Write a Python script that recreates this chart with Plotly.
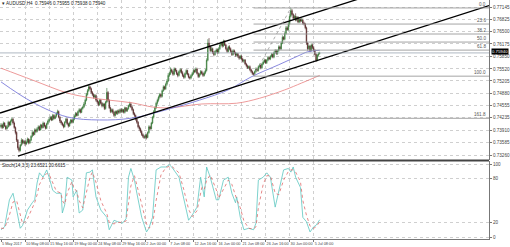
import plotly.graph_objects as go

# ---------------- data (prices in units of 0.0001 above 0.7000) ----------------
BASE = 0.7
UNIT = 0.0001

opens = [
400,405,398,410,402,395,400,412,405,415,
420,410,398,385,365,345,338,352,365,358,
362,355,360,368,358,365,375,385,380,392,
388,395,400,392,405,398,410,402,396,408,
415,420,425,418,430,422,428,435,440,425,
415,410,405,400,412,420,408,402,410,418,
412,420,428,435,430,440,445,438,448,452,
460,470,485,495,505,500,490,485,478,482,
470,465,458,470,462,455,460,448,465,490,
470,450,440,445,438,430,440,435,442,438,
445,440,445,438,450,442,448,455,460,452,
445,435,430,420,412,400,395,388,380,375,
372,378,372,385,400,395,410,425,440,450,
462,470,478,485,480,495,505,500,512,520,
535,540,550,545,538,552,548,540,535,545,
550,542,535,530,540,548,538,530,528,535,
540,548,545,552,540,532,538,545,540,535,
542,548,575,620,610,600,605,595,590,598,
602,595,605,615,620,612,625,615,605,598,
610,605,598,590,600,595,588,592,585,580,
585,578,572,575,565,560,555,558,550,545,
540,538,545,552,548,558,562,555,565,570,
575,568,575,582,578,585,590,583,595,600,
592,600,610,605,620,635,630,645,660,655,
670,690,705,695,685,690,680,688,675,682,
678,680,672,670,660,620,605,612,600,615,
608,600,590,575,588,592]

highs = [
410,408,414,412,404,405,416,414,419,425,
423,414,401,388,368,348,355,370,368,366,
365,364,372,370,368,378,390,388,396,395,
399,404,403,408,407,414,412,405,411,419,
424,429,428,434,433,432,438,445,443,428,
418,413,408,415,424,423,411,414,421,420,
424,432,439,438,443,449,448,451,456,465,
474,489,499,510,508,503,494,488,486,485,
474,468,473,473,465,463,462,468,502,494,
472,453,448,448,441,443,443,445,446,448,
449,448,447,453,452,451,458,466,464,455,
448,438,432,423,415,404,398,391,383,378,
381,382,388,404,403,413,428,444,454,466,
474,482,489,488,498,509,508,516,525,541,
545,556,553,548,556,555,550,543,548,554,
553,546,538,543,551,550,541,533,538,544,
552,551,556,555,543,541,549,548,543,546,
552,580,630,633,614,610,608,599,601,606,
605,609,619,624,623,629,628,618,608,613,
614,608,601,604,603,597,595,594,588,589,
588,581,578,578,568,563,561,561,553,548,
543,548,556,555,561,566,564,568,574,579,
578,578,586,585,588,594,593,598,604,603,
603,614,613,624,640,638,649,665,664,675,
695,712,709,698,694,698,691,690,686,685,
686,684,676,673,663,623,616,614,619,618,
612,604,593,591,596,597]

lows = [
396,394,396,400,391,393,398,401,403,412,
406,395,380,360,340,333,335,349,354,355,
350,352,357,354,355,362,372,376,378,384,
385,391,389,390,395,396,399,393,394,405,
412,417,415,416,419,420,425,432,422,410,
406,402,396,398,410,405,398,400,407,409,
409,417,425,427,428,437,435,436,445,449,
457,467,482,492,497,487,481,474,475,466,
461,454,455,459,451,452,444,445,462,466,
447,436,437,434,426,427,432,431,434,435,
436,437,435,435,439,439,445,452,449,441,
431,426,416,408,396,390,384,376,371,368,
369,367,370,382,392,393,407,422,437,447,
458,466,474,476,477,492,496,497,508,517,
530,536,541,534,535,544,536,530,532,541,
539,531,526,527,537,535,527,524,525,532,
537,541,542,537,528,529,535,537,531,532,
538,545,572,605,596,597,591,585,587,594,
591,592,602,611,608,609,612,601,594,595,
601,594,586,587,591,584,585,581,576,577,
575,569,568,562,556,552,552,546,541,536,
534,535,542,545,545,555,551,552,562,567,
565,565,572,575,575,582,580,580,592,589,
589,597,602,602,617,627,627,642,652,652,
667,687,692,681,682,677,677,672,672,674,
675,668,666,656,615,600,602,596,598,604,
597,587,570,572,585,590]

closes = [
405,398,410,402,395,400,412,405,415,420,
410,398,385,365,345,338,352,365,358,362,
355,360,368,358,365,375,385,380,392,388,
395,400,392,405,398,410,402,396,408,415,
420,425,418,430,422,428,435,440,425,415,
410,405,400,412,420,408,402,410,418,412,
420,428,435,430,440,445,438,448,452,460,
470,485,495,505,500,490,485,478,482,470,
465,458,470,462,455,460,448,465,490,470,
450,440,445,438,430,440,435,442,438,445,
440,445,438,450,442,448,455,460,452,445,
435,430,420,412,400,395,388,380,375,372,
378,372,385,400,395,410,425,440,450,462,
470,478,485,480,495,505,500,512,520,535,
540,550,545,538,552,548,540,535,545,550,
542,535,530,540,548,538,530,528,535,540,
548,545,552,540,532,538,545,540,535,542,
548,575,620,610,600,605,595,590,598,602,
595,605,615,620,612,625,615,605,598,610,
605,598,590,600,595,588,592,585,580,585,
578,572,575,565,560,555,558,550,545,540,
538,545,552,548,558,562,555,565,570,575,
568,575,582,578,585,590,583,595,600,592,
600,610,605,620,635,630,645,660,655,670,
690,705,695,685,690,680,688,675,682,678,
680,672,670,660,620,605,612,600,615,608,
600,590,575,588,592,594]

# moving averages (bar index, price units)
ma_blue_bars = [0, 26, 55, 82, 109, 140, 165, 189, 208, 231, 247, 255, 265]
ma_blue_vals = [518, 465, 426, 418, 423, 447, 470, 497, 531, 563, 586, 597, 601]
ma_red_bars = [0, 26, 55, 71, 90, 109, 126, 140, 167, 196, 215, 236, 250, 265]
ma_red_vals = [554, 523, 489, 478, 470, 463, 452, 450, 460, 462, 475, 497, 515, 535]

# channel anchor points (bar, price)
upper_channel_bars = [-0.83, 405.8]
upper_channel_prices = [0.743625, 0.784440]
lower_channel_bars = [14.05, 405.8]
lower_channel_prices = [0.732340, 0.771820]

# fibonacci retracement
fib_low_bar, fib_low = 210, 0.7533
fib_high_bar, fib_high = 241, 0.7712
fib_levels = [0.0, 23.6, 38.2, 50.0, 61.8, 100.0, 161.8]

bid_price = 0.75940
header_text = "AUDUSD,H4  0.75946 0.75955 0.75938 0.75940"
stoch_header = "Stoch(14,3,3) 23.6521 20.6615"

# stochastic
stoch_bars = [0,3,7,10,13,16,18,22,26,28,30,32,35,38,40,43,46,50,51,53,
              55,59,60,63,65,68,71,74,76,79,83,88,90,94,97,101,104,106,108,111,
              113,117,121,123,126,129,133,137,140,142,148,152,156,159,163,166,167,169,171,174,
              179,181,185,189,192,195,196,199,202,206,210,212,214,218,221,224,228,231,235,239,
              241,243,245,249,251,254,257,260,262,265]
stoch_main = [10,14,51,60,37,12,16,37,47,51,74,88,82,92,82,64,60,60,33,44,
              82,78,55,64,33,37,88,89,92,55,37,27,10,23,21,19,25,82,94,78,
              60,27,7,12,27,92,96,96,99,96,82,51,23,30,41,82,74,55,96,82,
              51,51,78,82,60,47,55,27,10,12,10,19,78,82,88,82,41,64,92,94,
              89,96,82,68,27,21,7,14,16,23.65]
stoch_signal = [12,12,30,48,50,30,18,25,40,47,58,72,82,87,86,75,63,60,50,45,
                60,76,70,62,50,40,62,82,89,75,50,32,20,18,20,20,22,45,70,84,
                72,45,18,12,17,50,85,95,97,97,88,65,38,28,36,60,68,65,78,85,
                65,53,65,78,72,55,52,40,22,12,11,14,40,72,84,84,60,58,78,90,
                92,92,89,76,50,30,15,12,14,20.66]

date_bars = [0, 20, 40, 60, 80, 100, 120, 140, 160, 180, 200, 220, 240, 260]
date_labels = ["5 May 2017", "10 May 08:00", "15 May 16:00", "19 May 00:00",
               "24 May 08:00", "29 May 16:00", "2 Jun 00:00", "7 Jun 08:00",
               "12 Jun 16:00", "16 Jun 00:00", "21 Jun 08:00", "26 Jun 16:00",
               "30 Jun 00:00", "5 Jul 08:00"]
price_ticks = [0.77145, 0.76825, 0.76500, 0.76175, 0.75850, 0.75520, 0.75205,
               0.74880, 0.74555, 0.74235, 0.73910, 0.73585, 0.73260]
stoch_ticks = [0, 20, 80, 100]

# ---------------- figure ----------------
def px(vals):
    return [BASE + v * UNIT for v in vals]

X_RANGE = [-0.83, 405.8]
FONT = "Liberation Sans"
FS = 4.6
DATE_FS = 3.8
GRID = "#cfcfcf"

fig = go.Figure()
bars = list(range(len(closes)))

fig.add_trace(go.Candlestick(
    x=bars, open=px(opens), high=px(highs), low=px(lows), close=px(closes),
    increasing=dict(line=dict(color="#2f6f2f", width=0.6), fillcolor="#4aa34a"),
    decreasing=dict(line=dict(color="#4a2020", width=0.6), fillcolor="#7a2a2a"),
    whiskerwidth=0, xaxis="x", yaxis="y", showlegend=False, hoverinfo="skip"))

fig.add_trace(go.Scatter(x=ma_red_bars, y=px(ma_red_vals), mode="lines",
                         line=dict(color="#e88080", width=0.8, shape="spline"),
                         xaxis="x", yaxis="y", showlegend=False))
fig.add_trace(go.Scatter(x=ma_blue_bars, y=px(ma_blue_vals), mode="lines",
                         line=dict(color="#6b6bd6", width=0.8, shape="spline"),
                         xaxis="x", yaxis="y", showlegend=False))

# channel
fig.add_trace(go.Scatter(x=upper_channel_bars, y=upper_channel_prices, mode="lines",
                         line=dict(color="black", width=1.3), xaxis="x", yaxis="y",
                         showlegend=False))
fig.add_trace(go.Scatter(x=lower_channel_bars, y=lower_channel_prices, mode="lines",
                         line=dict(color="black", width=1.3), xaxis="x", yaxis="y",
                         showlegend=False))

# fibonacci
fib_span = fib_high - fib_low
for lvl in fib_levels:
    p = fib_high - fib_span * lvl / 100.0
    fig.add_trace(go.Scatter(x=[fib_low_bar, X_RANGE[1]], y=[p, p], mode="lines",
                             line=dict(color="#9a9a9a", width=0.9),
                             xaxis="x", yaxis="y", showlegend=False))
    fig.add_annotation(x=X_RANGE[1] - 2, y=p, xref="x", yref="y", text=f"{lvl:.1f}",
                       xanchor="right", yanchor="bottom", showarrow=False,
                       font=dict(size=FS, color="#555", family=FONT), borderpad=0)
fig.add_trace(go.Scatter(x=[fib_low_bar, fib_high_bar], y=[fib_low, fib_high], mode="lines",
                         line=dict(color="#9a9a9a", width=0.8, dash="dot"),
                         xaxis="x", yaxis="y", showlegend=False))

# bid line
fig.add_trace(go.Scatter(x=X_RANGE, y=[bid_price, bid_price], mode="lines",
                         line=dict(color="#9aa6b4", width=0.8),
                         xaxis="x", yaxis="y", showlegend=False))

# stochastic
fig.add_trace(go.Scatter(x=stoch_bars, y=stoch_main, mode="lines",
                         line=dict(color="#5cc7c0", width=0.8),
                         xaxis="x2", yaxis="y2", showlegend=False))
fig.add_trace(go.Scatter(x=stoch_bars, y=stoch_signal, mode="lines",
                         line=dict(color="#e06a6a", width=0.8, dash="dot"),
                         xaxis="x2", yaxis="y2", showlegend=False))

MAIN_BOTTOM = 0.3305
tickfont = dict(size=FS, family=FONT, color="#444")
fig.update_layout(
    width=510, height=247,
    margin=dict(l=0, r=18, t=0, b=8),
    paper_bgcolor="white", plot_bgcolor="white",
    font=dict(family=FONT, size=FS, color="#333"),
    xaxis=dict(domain=[0, 1], range=X_RANGE, anchor="y", showticklabels=False,
               tickvals=date_bars, showgrid=True, gridcolor=GRID, griddash="dot",
               gridwidth=0.7, zeroline=False, rangeslider=dict(visible=False),
               ticks=""),
    yaxis=dict(domain=[MAIN_BOTTOM, 1], range=[0.73129, 0.77329], side="right",
               tickvals=price_ticks, ticktext=[f"{v:.5f}" for v in price_ticks],
               showgrid=True, gridcolor=GRID, griddash="dot", gridwidth=0.7,
               showline=True, linecolor="#777", linewidth=1, ticks="outside",
               ticklen=2, tickcolor="#777", zeroline=False, tickfont=tickfont),
    xaxis2=dict(domain=[0, 1], range=X_RANGE, anchor="y2", tickvals=date_bars,
                ticktext=date_labels, ticklabelposition="outside right",
                tickangle=0, showgrid=True, gridcolor=GRID, griddash="dot",
                gridwidth=0.7, showline=True, linecolor="#777", linewidth=1,
                ticks="outside", ticklen=2, tickcolor="#777", zeroline=False,
                tickfont=dict(size=DATE_FS, family=FONT, color="#444")),
    yaxis2=dict(domain=[0, 0.326], range=[-2.7, 104.1], side="right", anchor="x2",
                tickvals=stoch_ticks, ticktext=[str(v) for v in stoch_ticks],
                showgrid=True, gridcolor=GRID, griddash="dot", gridwidth=0.7,
                showline=True, linecolor="#777", linewidth=1, ticks="outside",
                ticklen=2, tickcolor="#777", zeroline=False, tickfont=tickfont),
)

# panel separator
fig.add_shape(type="line", xref="paper", yref="paper", x0=0, x1=1,
              y0=MAIN_BOTTOM - 0.002, y1=MAIN_BOTTOM - 0.002,
              line=dict(color="#444", width=1.8))

# headers
fig.add_annotation(x=0.003, y=0.998, xref="paper", yref="paper", xanchor="left",
                   yanchor="top", showarrow=False, text="▾ " + header_text,
                   font=dict(size=FS, family=FONT, color="#222"), borderpad=0)
fig.add_annotation(x=0.003, y=0.322, xref="paper", yref="paper", xanchor="left",
                   yanchor="top", showarrow=False, text=stoch_header,
                   font=dict(size=FS, family=FONT, color="#222"), borderpad=0)
# current price box
fig.add_annotation(x=1.004, y=bid_price, xref="paper", yref="y", xanchor="left",
                   yanchor="bottom", showarrow=False, text=f"{bid_price:.5f}",
                   bgcolor="black", font=dict(size=4.3, family=FONT, color="white"),
                   borderpad=0, yshift=-2)

fig.write_html("out.html")
